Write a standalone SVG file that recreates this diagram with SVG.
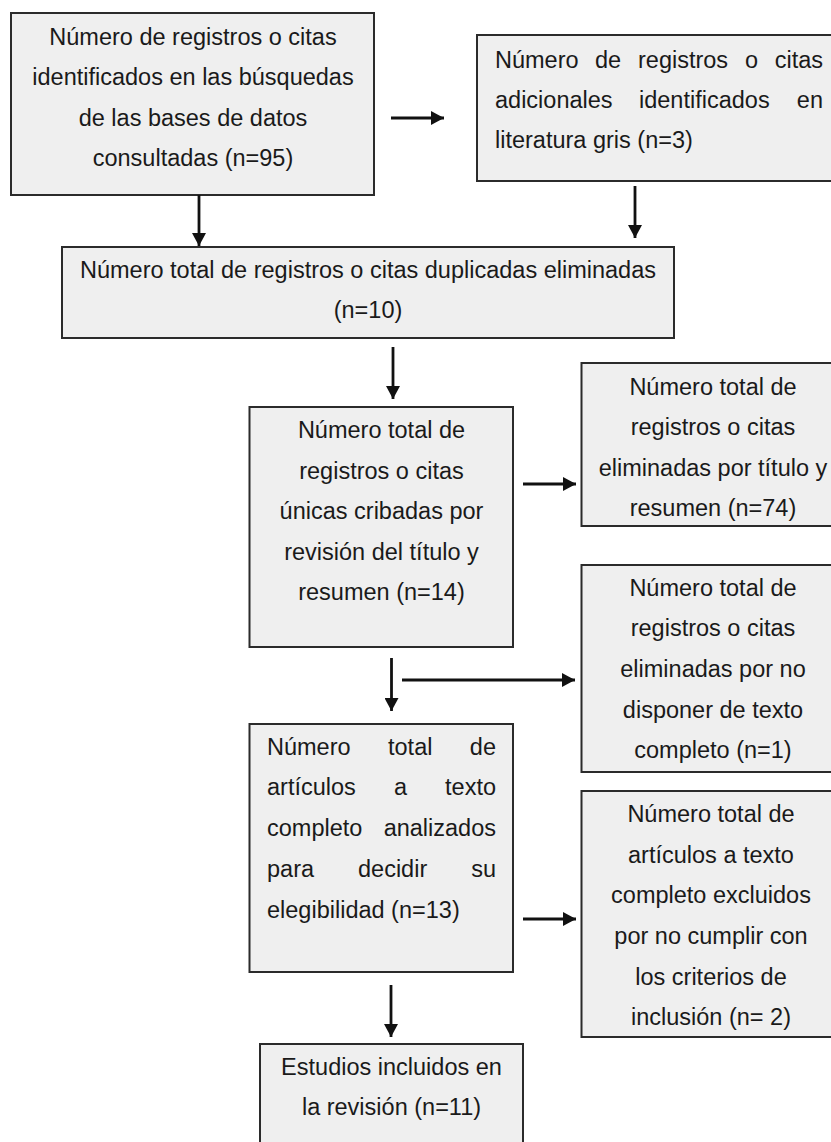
<svg xmlns="http://www.w3.org/2000/svg" width="831" height="1142" viewBox="0 0 831 1142">
<style>
.box{fill:#efefef;stroke:#2b2b2b;stroke-width:2}
text{font-family:"Liberation Sans",Arial,sans-serif;font-size:23.5px;fill:#1a1a1a}
.c{text-anchor:middle}
.e{text-anchor:end}
.conn line{stroke:#111;stroke-width:2.8;marker-end:url(#ah)}
</style>
<defs>
<marker id="ah" markerUnits="userSpaceOnUse" markerWidth="14" markerHeight="14" refX="13" refY="7" orient="auto">
<path d="M0,0 L13,7 L0,14 z" fill="#111"/>
</marker>
</defs>
<rect width="831" height="1142" fill="#ffffff"/>
<g id="n1">
<rect class="box" x="11" y="13" width="363" height="182"/>
<text class="c" x="193" y="45">Número de registros o citas</text>
<text class="c" x="193" y="85">identificados en las búsquedas</text>
<text class="c" x="193" y="126">de las bases de datos</text>
<text class="c" x="193" y="166">consultadas (n=95)</text>
</g>
<g id="n2">
<rect class="box" x="477" y="35" width="370" height="146"/>
<text x="495" y="68">Número</text>
<text x="595" y="68">de</text>
<text x="638" y="68">registros</text>
<text x="745" y="68">o</text>
<text class="e" x="823" y="68">citas</text>
<text x="495" y="108">adicionales</text>
<text x="639" y="108">identificados</text>
<text class="e" x="823" y="108">en</text>
<text x="495" y="148">literatura gris (n=3)</text>
</g>
<g id="n3">
<rect class="box" x="62" y="247" width="612" height="91"/>
<text class="c" x="368" y="278">Número total de registros o citas duplicadas eliminadas</text>
<text class="c" x="368" y="318">(n=10)</text>
</g>
<g id="n4">
<rect class="box" x="249.5" y="407" width="263.5" height="240"/>
<text class="c" x="381.5" y="438">Número total de</text>
<text class="c" x="381.5" y="479">registros o citas</text>
<text class="c" x="381.5" y="519">únicas cribadas por</text>
<text class="c" x="381.5" y="560">revisión del título y</text>
<text class="c" x="381.5" y="600">resumen (n=14)</text>
</g>
<g id="n5">
<rect class="box" x="581.5" y="363" width="270" height="163"/>
<text class="c" x="713" y="395">Número total de</text>
<text class="c" x="713" y="435">registros o citas</text>
<text class="c" x="713" y="476">eliminadas por título y</text>
<text class="c" x="713" y="516">resumen (n=74)</text>
</g>
<g id="n6">
<rect class="box" x="581.5" y="565" width="270" height="207"/>
<text class="c" x="713" y="596">Número total de</text>
<text class="c" x="713" y="636">registros o citas</text>
<text class="c" x="713" y="677">eliminadas por no</text>
<text class="c" x="713" y="718">disponer de texto</text>
<text class="c" x="713" y="758">completo (n=1)</text>
</g>
<g id="n7">
<rect class="box" x="249.5" y="724" width="263.5" height="248"/>
<text x="267" y="755">Número</text>
<text x="388" y="755">total</text>
<text class="e" x="496" y="755">de</text>
<text x="267" y="795">artículos</text>
<text x="394" y="795">a</text>
<text class="e" x="496" y="795">texto</text>
<text x="267" y="836">completo</text>
<text class="e" x="496" y="836">analizados</text>
<text x="267" y="877">para</text>
<text x="358" y="877">decidir</text>
<text class="e" x="496" y="877">su</text>
<text x="267" y="918">elegibilidad (n=13)</text>
</g>
<g id="n8">
<rect class="box" x="581.5" y="791" width="270" height="246"/>
<text class="c" x="711" y="822">Número total de</text>
<text class="c" x="711" y="863">artículos a texto</text>
<text class="c" x="711" y="903">completo excluidos</text>
<text class="c" x="711" y="944">por no cumplir con</text>
<text class="c" x="711" y="985">los criterios de</text>
<text class="c" x="711" y="1025">inclusión (n= 2)</text>
</g>
<g id="n9">
<rect class="box" x="260" y="1044" width="263" height="110"/>
<text class="c" x="391.5" y="1075">Estudios incluidos en</text>
<text class="c" x="391.5" y="1115">la revisión (n=11)</text>
</g>
<g class="conn" id="connectors">
<line x1="391" y1="118" x2="444" y2="118"/>
<line x1="199" y1="195" x2="199" y2="246"/>
<line x1="635" y1="186" x2="635" y2="238"/>
<line x1="393" y1="347" x2="393" y2="399"/>
<line x1="523" y1="484" x2="576" y2="484"/>
<line x1="391.5" y1="658" x2="391.5" y2="711"/>
<line x1="402" y1="680" x2="575" y2="680"/>
<line x1="523" y1="919" x2="576" y2="919"/>
<line x1="391" y1="985" x2="391" y2="1037"/>
</g>
</svg>
